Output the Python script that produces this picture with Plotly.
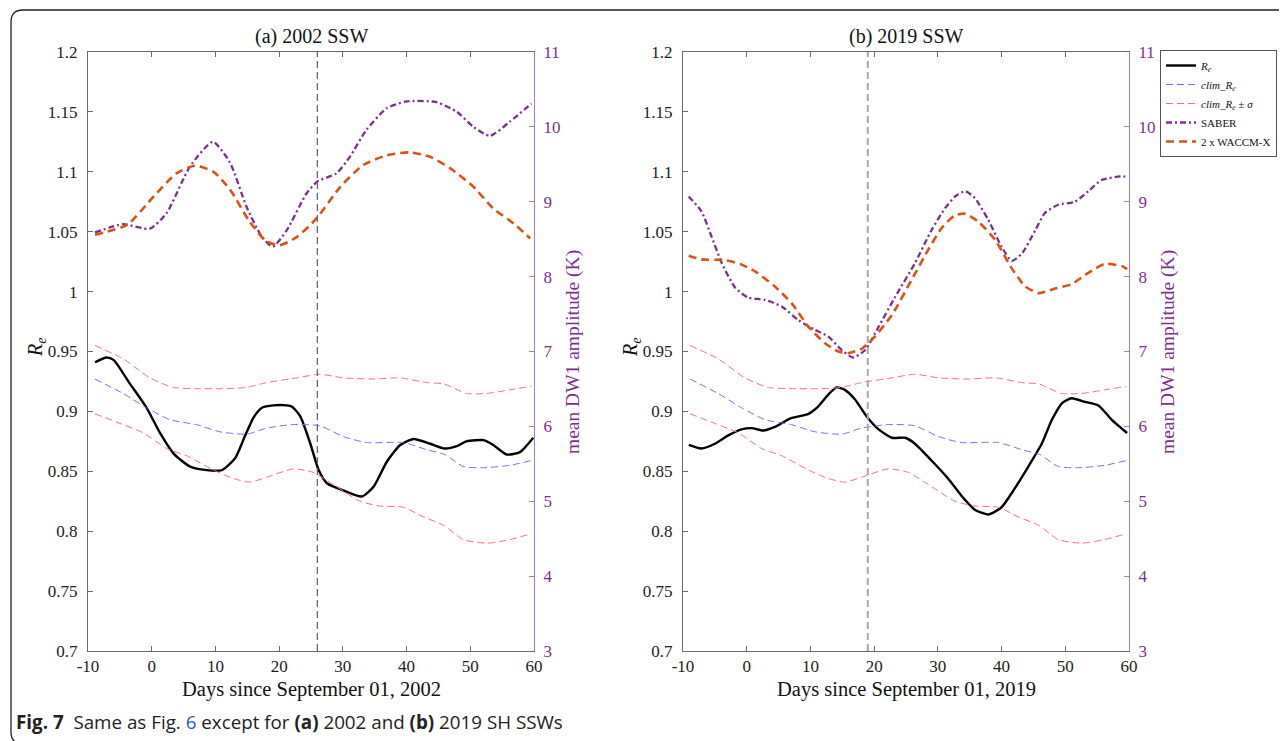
import plotly.graph_objects as go

# ---------------- data ----------------
# climatology (identical in both panels)
clim_days = [-8.9, -4.5, -0.8, 2.9, 7.0, 10.7, 14.9, 18.0, 22.2, 26.4, 30.1, 33.7, 39.5, 43.2, 46.0, 48.9, 52.1, 56.2, 59.6]
clim_re = [0.927, 0.915, 0.903, 0.893, 0.889, 0.883, 0.881, 0.886, 0.889, 0.888, 0.879, 0.874, 0.874, 0.868, 0.864, 0.854, 0.853, 0.855, 0.859]

clim_up_days = [-8.9, -4.5, -0.3, 3.4, 7.0, 11.2, 14.9, 18.0, 22.8, 26.4, 30.1, 34.8, 39.0, 43.2, 45.8, 49.4, 52.6, 56.2, 59.6]
clim_up = [0.955, 0.944, 0.928, 0.920, 0.919, 0.919, 0.920, 0.924, 0.928, 0.931, 0.928, 0.927, 0.928, 0.924, 0.923, 0.915, 0.915, 0.918, 0.921]

clim_lo_days = [-8.9, -5.0, -1.3, 2.35, 5.5, 9.7, 12.8, 15.4, 18.0, 22.2, 25.4, 28.5, 32.7, 35.8, 39.5, 42.6, 45.8, 48.9, 52.6, 56.2, 59.6]
clim_lo = [0.898, 0.890, 0.882, 0.869, 0.863, 0.851, 0.844, 0.841, 0.845, 0.852, 0.849, 0.839, 0.825, 0.821, 0.820, 0.812, 0.805, 0.793, 0.790, 0.793, 0.798]

# 2002
re02_days = [-8.9, -7.1, -6.0, -3.4, -0.8, 1.3, 3.4, 6.0, 8.6, 11.0, 13.1, 14.6, 16.0, 17.3, 19.1, 21.2, 22.0, 23.3, 24.9, 26.2, 27.5, 30.1, 33.0, 34.8, 36.9, 39.0, 41.1, 43.7, 46.0, 47.9, 49.4, 52.1, 53.6, 55.7, 57.8, 59.9]
re02 = [0.941, 0.945, 0.943, 0.923, 0.903, 0.882, 0.865, 0.854, 0.851, 0.851, 0.861, 0.879, 0.895, 0.903, 0.905, 0.905, 0.904, 0.896, 0.873, 0.851, 0.840, 0.834, 0.829, 0.837, 0.858, 0.872, 0.877, 0.873, 0.869, 0.871, 0.875, 0.876, 0.872, 0.864, 0.866, 0.878]

saber02_days = [-8.9, -4.5, -0.3, 2.35, 6.0, 9.6, 12.3, 14.9, 17.3, 19.0, 21.2, 24.3, 26.0, 29.0, 31.1, 33.7, 36.9, 40.0, 44.7, 47.9, 50.5, 53.1, 56.2, 59.6]
saber02 = [8.59, 8.70, 8.64, 8.85, 9.47, 9.80, 9.52, 8.93, 8.53, 8.40, 8.62, 9.11, 9.27, 9.38, 9.60, 9.96, 10.25, 10.34, 10.33, 10.20, 10.00, 9.88, 10.07, 10.31]

waccm02_days = [-8.9, -3.9, 0.3, 3.9, 6.8, 9.7, 12.3, 15.4, 18.0, 20.1, 22.8, 25.9, 29.6, 33.2, 36.9, 40.5, 43.7, 46.8, 50.5, 53.6, 56.8, 59.4]
waccm02 = [8.56, 8.69, 9.07, 9.38, 9.48, 9.40, 9.16, 8.73, 8.47, 8.42, 8.53, 8.78, 9.20, 9.49, 9.62, 9.66, 9.60, 9.45, 9.20, 8.91, 8.71, 8.51]

# 2019
re19_days = [-9.1, -7.1, -5.0, -2.9, -0.8, 0.8, 2.6, 4.4, 6.8, 9.7, 11.2, 12.8, 14.1, 15.4, 17.0, 18.8, 20.7, 22.8, 24.9, 26.4, 29.0, 31.6, 33.8, 35.8, 37.9, 40.0, 42.1, 44.2, 46.3, 47.9, 49.5, 51.0, 53.1, 55.2, 57.3, 59.7]
re19 = [0.872, 0.869, 0.873, 0.880, 0.885, 0.886, 0.884, 0.887, 0.894, 0.898, 0.904, 0.914, 0.920, 0.918, 0.910, 0.896, 0.885, 0.878, 0.878, 0.873, 0.859, 0.844, 0.829, 0.818, 0.814, 0.820, 0.836, 0.854, 0.873, 0.893, 0.907, 0.911, 0.908, 0.905, 0.893, 0.882]

saber19_days = [-9.1, -7.1, -5.5, -3.9, -1.8, 0.25, 2.9, 5.5, 8.1, 10.7, 12.8, 14.9, 16.7, 18.6, 20.7, 23.3, 26.4, 29.0, 31.1, 32.7, 34.3, 35.8, 37.9, 40.0, 41.6, 43.2, 45.3, 46.8, 48.9, 51.5, 53.6, 55.7, 58.9, 59.7]
saber19 = [9.07, 8.87, 8.53, 8.18, 7.85, 7.72, 7.69, 7.60, 7.42, 7.29, 7.20, 7.02, 6.92, 7.02, 7.33, 7.73, 8.18, 8.62, 8.91, 9.07, 9.14, 9.05, 8.76, 8.40, 8.21, 8.31, 8.62, 8.85, 8.96, 9.00, 9.14, 9.29, 9.34, 9.33]

waccm19_days = [-9.1, -7.1, -3.4, -0.8, 1.3, 4.4, 7.1, 9.7, 12.3, 14.4, 16.0, 18.1, 20.1, 22.8, 25.9, 28.5, 30.6, 32.7, 34.3, 36.4, 39.0, 41.6, 43.7, 45.8, 48.4, 51.0, 53.6, 56.2, 58.9, 59.7]
waccm19 = [8.28, 8.23, 8.22, 8.16, 8.07, 7.87, 7.64, 7.33, 7.11, 7.00, 6.98, 7.04, 7.20, 7.49, 7.96, 8.36, 8.65, 8.82, 8.84, 8.73, 8.49, 8.11, 7.87, 7.78, 7.84, 7.90, 8.05, 8.17, 8.14, 8.10]

ssw_day_2002 = 26
ssw_day_2019 = 19

x_ticks = [-10, 0, 10, 20, 30, 40, 50, 60]
x_ticktext = ["-10", "0", "10", "20", "30", "40", "50", "60"]
re_ticks = [0.7, 0.75, 0.8, 0.85, 0.9, 0.95, 1.0, 1.05, 1.1, 1.15, 1.2]
re_ticktext = ["0.7", "0.75", "0.8", "0.85", "0.9", "0.95", "1", "1.05", "1.1", "1.15", "1.2"]
amp_ticks = [3, 4, 5, 6, 7, 8, 9, 10, 11]

panel_titles = ["(a) 2002 SSW", "(b) 2019 SSW"]
x_titles = ["Days since September 01, 2002", "Days since September 01, 2019"]

# ---------------- styling ----------------
PAGE_W, PAGE_H = 1287, 741
OFF = 8  # the page body margin offsets the figure by 8 px
W, H = PAGE_W - OFF, PAGE_H - OFF
SERIF = "Liberation Serif, Times New Roman, serif"
PURPLE = "#7E2F8E"
PURPLE_AX = "#A77BBE"
ORANGE = "#D95319"
BLUE = "#6F6FFF"
RED = "#FF7070"
AXC = "#6b6b6b"

def px(x):
    # page pixel -> paper fraction
    return (x - OFF) / W

def py(y):
    return (PAGE_H - y) / H

ydom = [py(651), py(52)]
xdoms = [[px(88), px(534)], [px(683), px(1129)]]

fig = go.Figure()

panels = [
    (re02_days, re02, saber02_days, saber02, waccm02_days, waccm02, ssw_day_2002, "#666666", 1.3),
    (re19_days, re19, saber19_days, saber19, waccm19_days, waccm19, ssw_day_2019, "#a8a8a8", 2.0),
]

for i, (rd, rv, sd, sv, wd, wv, ssw, vcol, vw) in enumerate(panels):
    xa = "x" if i == 0 else "x2"
    ya = "y" if i == 0 else "y3"
    ya2 = "y2" if i == 0 else "y4"
    show = i == 0
    fig.add_trace(go.Scatter(x=rd, y=rv, mode="lines", name="<i>R</i><sub><i>e</i></sub>",
                             line=dict(color="black", width=2.4, shape="spline", smoothing=0.6),
                             xaxis=xa, yaxis=ya, showlegend=show, legendrank=1))
    fig.add_trace(go.Scatter(x=clim_days, y=clim_re, mode="lines",
                             name="<i>clim</i>_<i>R</i><sub><i>e</i></sub>",
                             line=dict(color=BLUE, width=1, dash="7px,4px", shape="spline", smoothing=0.6),
                             xaxis=xa, yaxis=ya, showlegend=show, legendrank=2))
    fig.add_trace(go.Scatter(x=clim_up_days, y=clim_up, mode="lines",
                             name="<i>clim</i>_<i>R</i><sub><i>e</i></sub> ± <i>σ</i>",
                             line=dict(color=RED, width=1, dash="7px,4px", shape="spline", smoothing=0.6),
                             xaxis=xa, yaxis=ya, showlegend=show, legendrank=3))
    fig.add_trace(go.Scatter(x=clim_lo_days, y=clim_lo, mode="lines",
                             name="clim lower",
                             line=dict(color=RED, width=1, dash="7px,4px", shape="spline", smoothing=0.6),
                             xaxis=xa, yaxis=ya, showlegend=False))
    fig.add_trace(go.Scatter(x=sd, y=sv, mode="lines", name="SABER",
                             line=dict(color=PURPLE, width=2.3, dash="6px,3px,2px,3px", shape="spline", smoothing=0.6),
                             xaxis=xa, yaxis=ya2, showlegend=show, legendrank=4))
    fig.add_trace(go.Scatter(x=wd, y=wv, mode="lines", name="2 x WACCM-X",
                             line=dict(color=ORANGE, width=2.6, dash="8px,5px", shape="spline", smoothing=0.6),
                             xaxis=xa, yaxis=ya2, showlegend=show, legendrank=5))
    fig.add_shape(type="line", xref=xa, yref=ya + " domain", x0=ssw, x1=ssw, y0=0, y1=1,
                  line=dict(color=vcol, width=vw, dash="7px,4px"))

common_x = dict(range=[-10, 60], tickvals=x_ticks, ticktext=x_ticktext, ticks="inside", ticklen=5, tickcolor=AXC,
                showline=True, linecolor=AXC, linewidth=1, mirror="ticks", showgrid=False,
                zeroline=False, automargin=False, tickfont=dict(family=SERIF, size=17, color="#222"))
common_y = dict(range=[0.7, 1.2], tickvals=re_ticks, ticktext=re_ticktext, ticks="inside", ticklen=5,
                tickcolor=AXC, showline=True, linecolor=AXC, linewidth=1, showgrid=False, zeroline=False,
                automargin=False, tickfont=dict(family=SERIF, size=17, color="#222"), ticklabelstandoff=6)
common_y2 = dict(range=[3, 11], tickvals=amp_ticks, ticks="inside", ticklen=5, tickcolor=PURPLE_AX,
                 showline=True, linecolor=PURPLE_AX, linewidth=1, showgrid=False, zeroline=False,
                 automargin=False, side="right", tickfont=dict(family=SERIF, size=17, color=PURPLE),
                 ticklabelstandoff=5)

fig.update_layout(
    xaxis=dict(domain=xdoms[0], anchor="y", **common_x),
    xaxis2=dict(domain=xdoms[1], anchor="y3", **common_x),
    yaxis=dict(domain=ydom, anchor="x", **common_y),
    yaxis2=dict(overlaying="y", anchor="x", **common_y2),
    yaxis3=dict(domain=ydom, anchor="x2", **common_y),
    yaxis4=dict(overlaying="y3", anchor="x2", **common_y2),
)

annots = []
for i in range(2):
    cx = (xdoms[i][0] + xdoms[i][1]) / 2
    annots.append(dict(text=panel_titles[i], x=cx, y=py(37), xref="paper", yref="paper",
                       xanchor="center", yanchor="middle", showarrow=False,
                       font=dict(family=SERIF, size=20, color="#111")))
    annots.append(dict(text=x_titles[i], x=cx, y=py(689), xref="paper", yref="paper",
                       xanchor="center", yanchor="middle", showarrow=False,
                       font=dict(family=SERIF, size=20.5, color="#111")))
rx = [36, 631]
ax2 = [573, 1168]
for i in range(2):
    annots.append(dict(text="<i>R</i><sub><i>e</i></sub>", x=px(rx[i]), y=py(348), xref="paper", yref="paper",
                       xanchor="center", yanchor="middle", showarrow=False, textangle=-90,
                       font=dict(family=SERIF, size=20, color="#111")))
    annots.append(dict(text="mean DW1 amplitude (K)", x=px(ax2[i]), y=py(352), xref="paper", yref="paper",
                       xanchor="center", yanchor="middle", showarrow=False, textangle=-90,
                       font=dict(family=SERIF, size=19.5, color=PURPLE)))
annots.append(dict(text="<b>Fig. 7</b>  Same as Fig. <span style='color:#2a5db0'>6</span> except for <b>(a)</b> 2002 and <b>(b)</b> 2019 SH SSWs",
                   x=px(14), y=py(722), xref="paper", yref="paper", xanchor="left", yanchor="middle",
                   showarrow=False, font=dict(family="Open Sans", size=18.8, color="#222")))

# rounded frame around the figure (left side visible, right and bottom edges off-canvas)
r = 12
x0, y0, y1 = 11, 10, 744
frame = (f"M {px(PAGE_W + 5)} {py(y0)} L {px(x0 + r)} {py(y0)} Q {px(x0)} {py(y0)} {px(x0)} {py(y0 + r)} "
         f"L {px(x0)} {py(y1 - r)} Q {px(x0)} {py(y1)} {px(x0 + r)} {py(y1)} L {px(PAGE_W + 5)} {py(y1)}")
fig.add_shape(type="path", path=frame, xref="paper", yref="paper", line=dict(color="#222", width=1.3), layer="below")

fig.update_layout(
    width=W, height=H, margin=dict(l=0, r=0, t=0, b=0, autoexpand=False),
    paper_bgcolor="white", plot_bgcolor="white",
    annotations=annots,
    legend=dict(x=px(1160), y=py(50), xanchor="left", yanchor="top",
                font=dict(family=SERIF, size=11, color="#111"), bgcolor="white",
                bordercolor="#555", borderwidth=1, tracegroupgap=0, itemwidth=30,
                traceorder="normal"),
    font=dict(family=SERIF),
)

fig.write_html("out.html")
